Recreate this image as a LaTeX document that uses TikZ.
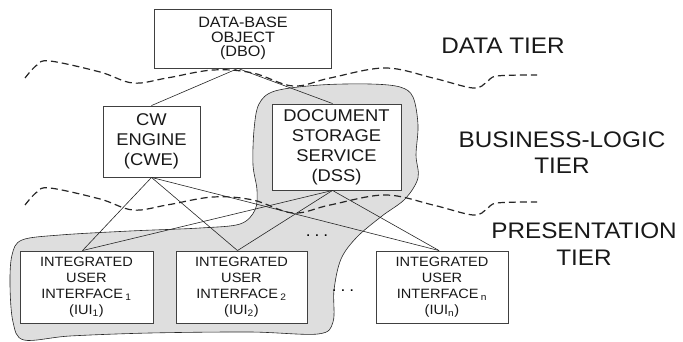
\documentclass[tikz,border=0pt]{standalone}
\usepackage{fontspec}
\setmainfont{Liberation Sans}[FakeStretch=1.08]
\begin{document}
\begin{tikzpicture}[x=1pt,y=-1pt,
  box/.style={draw=black!75, line width=0.9pt, fill=white, inner sep=0pt, align=center, text=black!90},
  conn/.style={line width=0.6pt, black!85},
  tierline/.style={line width=1.2pt, dash pattern=on 7pt off 4pt, black!85},
  tierlabel/.style={align=center, font=\fontsize{22.5}{26.5}\selectfont, text=black!90},
  dotlabel/.style={font=\fontsize{16}{16}\selectfont, anchor=base, inner sep=0pt}]
\useasboundingbox (0,0) rectangle (683,342);
% shaded region
\filldraw[fill=black!13, draw=black!85, line width=0.6pt]
  plot[smooth cycle, tension=0.55] coordinates {
  (22,240) (60,235) (130,231) (200,228) (240,224) (255,210) (257,190) (253,165)
  (254,130) (259,104) (275,91) (320,85) (370,84) (400,87) (413,97) (418,125)
  (416,155) (418,178) (405,199) (382,216) (357,237) (341,259) (334,290)
  (333,322) (318,334) (250,332) (150,333) (70,336) (24,340) (13,322)
  (10,285) (12,255)};
% tier boundaries
\draw[tierline] plot[smooth, tension=0.6] coordinates {
  (25,78) (37,65) (50,61) (100,72) (133,83) (167,78) (213,70) (253,73) (293,86)
  (330,78) (385,68) (433,78) (473,88) (487,82) (497,76) (537,75)};
\begin{scope}[yshift=-127pt]
\draw[tierline] plot[smooth, tension=0.6] coordinates {
  (25,78) (37,65) (50,61) (100,72) (133,83) (167,78) (213,70) (253,73) (293,86)
  (330,78) (385,68) (433,78) (473,88) (487,82) (497,76) (537,75)};
\end{scope}
% boxes
\node[box, minimum width=177pt, minimum height=59pt, font=\fontsize{15}{14.5}\selectfont]
  (dbo) at (243,38.5) {DATA-BASE\\OBJECT\\(DBO)};
\node[box, minimum width=97pt, minimum height=71pt, font=\fontsize{17}{20}\selectfont]
  (cwe) at (151.5,141.5) {CW\\ENGINE\\(CWE)};
\node[box, minimum width=129pt, minimum height=86pt, font=\fontsize{17}{20}\selectfont]
  (dss) at (336.5,147) {DOCUMENT\\STORAGE\\SERVICE\\(DSS)};
\node[box, minimum width=133pt, minimum height=72pt, font=\fontsize{13.5}{16}\selectfont]
  (iui1) at (86.5,287) {INTEGRATED\\USER\\INTERFACE\,\textsubscript{1}\\(IUI\textsubscript{1})};
\node[box, minimum width=131pt, minimum height=72pt, font=\fontsize{13.5}{16}\selectfont]
  (iui2) at (241.5,287) {INTEGRATED\\USER\\INTERFACE\,\textsubscript{2}\\(IUI\textsubscript{2})};
\node[box, minimum width=132pt, minimum height=72pt, font=\fontsize{13.5}{16}\selectfont]
  (iuin) at (442,287) {INTEGRATED\\USER\\INTERFACE\,\textsubscript{n}\\(IUI\textsubscript{n})};
% connectors
\coordinate (dbob) at ([xshift=-5pt]dbo.south);
\coordinate (dsst) at ([xshift=-4pt]dss.north);
\coordinate (dssb) at ([xshift=-4pt]dss.south);
\coordinate (i1t) at ([xshift=-4pt]iui1.north);
\coordinate (i2t) at ([xshift=-4pt]iui2.north);
\coordinate (int) at ([xshift=-3pt]iuin.north);
\draw[conn] (dbob) -- (cwe.north);
\draw[conn] (dbob) -- (dsst);
\draw[conn] (cwe.south) -- (i1t);
\draw[conn] (cwe.south) -- (i2t);
\draw[conn] (cwe.south) -- (int);
\draw[conn] (dssb) -- (i1t);
\draw[conn] (dssb) -- (i2t);
\draw[conn] (dssb) -- (int);
% dots
\node[dotlabel] (dots1) at (317,236) {.\hspace{4pt}.\hspace{4pt}.};
\node[dotlabel] (dots2) at (343,291) {.\hspace{4pt}.\hspace{4pt}.};
% tier labels
\node[tierlabel] (tdata) at (503,45.5) {DATA TIER};
\node[tierlabel] (tbus) at (562,152.5) {BUSINESS-LOGIC\\TIER};
\node[tierlabel] (tpres) at (584,244) {PRESENTATION\\TIER};
\end{tikzpicture}
\end{document}
